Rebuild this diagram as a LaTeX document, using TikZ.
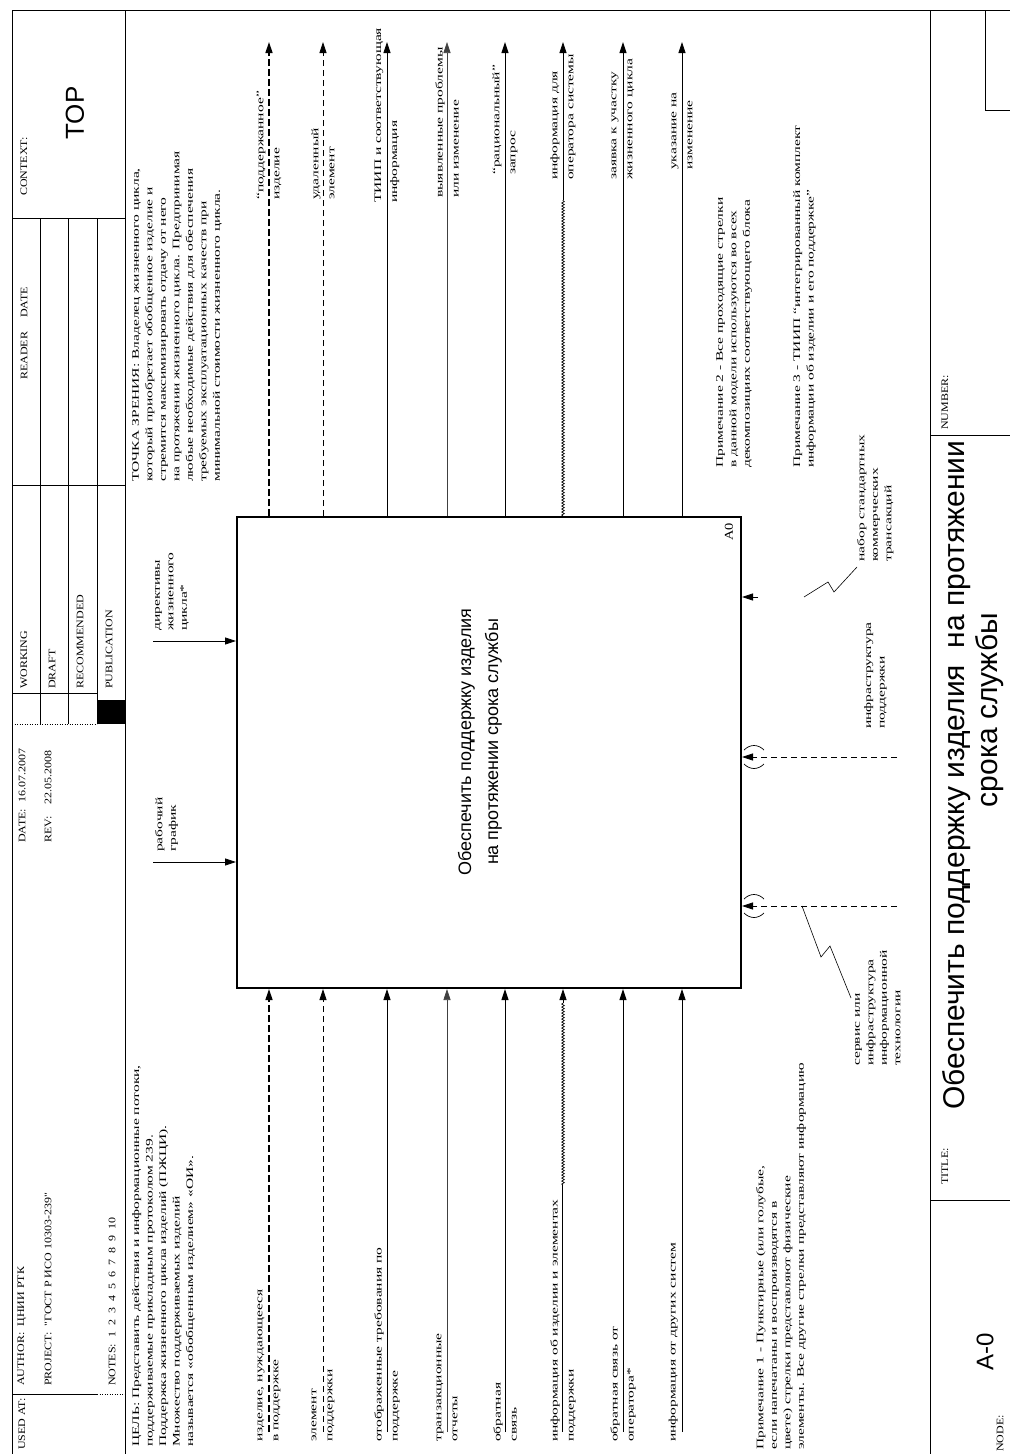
\documentclass[tikz,border=0pt]{standalone}
\usepackage{fontspec}
\setmainfont{Liberation Serif}
\newfontfamily\wide{Liberation Serif}[FakeStretch=1.55]
\newfontfamily\hdr{Liberation Serif}[FakeStretch=1.2]
\newfontfamily\arial{Liberation Sans}
\usetikzlibrary{arrows.meta,decorations.pathmorphing,calc}
\begin{document}
\begin{tikzpicture}[x=1pt,y=-1pt,
  txt/.style={rotate=90, inner sep=0pt, align=left, font=\wide\fontsize{10}{13.5}\selectfont},
  lab/.style={rotate=90, inner sep=0pt, align=left, anchor=west, font=\wide\fontsize{10}{16}\selectfont},
  hd/.style={rotate=90, inner sep=0pt, anchor=west, font=\hdr\fontsize{10}{11}\selectfont},
  arr/.style={-{Triangle[length=11pt,width=7pt]}, line width=0.8pt},
  thickdash/.style={arr, line width=1.4pt, dash pattern=on 7pt off 3pt},
  thindash/.style={arr, line width=0.8pt, dash pattern=on 6pt off 4pt},
  wavy/.style={line width=0.7pt, decorate, decoration={snake, amplitude=1.3pt, segment length=3pt}},
  frm/.style={line width=0.8pt},
  thin/.style={line width=0.5pt}]
\useasboundingbox[fill=white] (0,0) rectangle (1010,1454);
% ---------- frame ----------
\draw[frm] (12,1454) -- (12,10) -- (1010,10);
\draw[thin] (125,10) -- (125,1454);
\draw[frm] (930,10) -- (930,1454);
\draw[thin] (930,1200) -- (1010,1200);
\draw[thin] (930,435) -- (1010,435);
\draw[thin] (985,10) -- (985,110) -- (1010,110);
% ---------- header ----------
\draw[thin] (12,1394) -- (97,1394);
\draw[thin, dotted] (97,1394) -- (125,1394);
\draw[thin] (12,218) -- (125,218);
\draw[thin] (12,485) -- (125,485);
\draw[thin] (12,693) -- (97,693);
\draw[thin, dotted] (12,724) -- (97,724);
\foreach \r in {40,68,97} \draw[thin] (\r,218) -- (\r,724);
\fill (97,700) rectangle (125,724);
\node[hd] (usedat) at (22,1450) {USED AT:};
\node[hd] (author) at (22,1386) {AUTHOR:\ \ ЦНИИ РТК};
\node[hd] (project) at (48,1386) {PROJECT:\ \ "ГОСТ Р ИСО 10303-239"};
\node[hd] (notes) at (112,1386) {NOTES:\ \ 1\ \ 2\ \ 3\ \ 4\ \ 5\ \ 6\ \ 7\ \ 8\ \ 9\ \ 10};
\node[hd] (date) at (22,843) {DATE:\ \ 16.07.2007};
\node[hd] (rev) at (48,843) {REV:\ \ \ \ 22.05.2008};
\node[hd] (working) at (24,689) {WORKING};
\node[hd] (draft) at (52,689) {DRAFT};
\node[hd] (recomm) at (80,689) {RECOMMENDED};
\node[hd] (public) at (109,689) {PUBLICATION};
\node[hd] (reader) at (24,380) {READER};
\node[hd] (rdate) at (24,318) {DATE};
\node[hd] (context) at (24,196) {CONTEXT:};
\node[rotate=90, font=\arial\fontsize{26}{26}\selectfont] (top) at (75,113) {TOP};
% ---------- purpose / viewpoint ----------
\node[txt, anchor=north west] (purpose) at (132,1447) {ЦЕЛЬ: Представить действия и информационные потоки,\\поддерживаемые прикладным протоколом 239.\\Поддержка жизненного цикла изделий (ПЖЦИ).\\Множество поддерживаемых изделий\\называется «обобщенным изделием» «ОИ».};
\node[txt, anchor=north west] (viewpoint) at (132,482) {ТОЧКА ЗРЕНИЯ: Владелец жизненного цикла,\\который приобретает обобщенное изделие и\\стремится максимизировать отдачу от него\\на протяжении жизненного цикла. Предпринимая\\любые необходимые действия для обеспечения\\требуемых эксплуатационных качеств при\\минимальной стоимости жизненного цикла.};
% ---------- main box ----------
\node[draw, line width=2pt, minimum width=504pt, minimum height=471pt, inner sep=0pt] (A0) at (489,752.5) {};
\node[rotate=90, align=center, font=\arial\fontsize{18}{27}\selectfont] (A0text) at (480,742) {Обеспечить поддержку изделия\\на протяжении срока службы};
\node[rotate=90, anchor=east, inner sep=0pt, font=\hdr\fontsize{12}{12}\selectfont] (A0num) at (729,523) {A0};
% ---------- outputs ----------
\coordinate (o1) at (269,42); \coordinate (o2) at (323,42); \coordinate (o3) at (387,42); \coordinate (o4) at (447,42);
\coordinate (o5) at (505,42); \coordinate (o6) at (563,42); \coordinate (o7) at (623,42); \coordinate (o8) at (682,42);
\draw[thickdash] (o1 |- A0.north) -- (o1);
\draw[thindash] (o2 |- A0.north) -- (o2);
\draw[arr] (o3 |- A0.north) -- (o3);
\draw[arr, line width=0.6pt, black!75] (o4 |- A0.north) -- (o4);
\draw[arr, line width=1pt] (o5 |- A0.north) -- (o5);
\coordinate (o6w) at (563,200);
\draw[wavy] (o6 |- A0.north) -- (o6w);
\draw[arr] (o6w) -- (o6);
\draw[arr, line width=1pt] (o7 |- A0.north) -- (o7);
\draw[arr] (o8 |- A0.north) -- (o8);
\node[lab] (o1l) at (269,200) {“поддержанное”\\изделие};
\node[lab] (o2l) at (323,200) {удаленный\\элемент};
\node[lab] (o3l) at (387,203) {ТИИП и соответствующая\\информация};
\node[lab] (o4l) at (447,198) {выявленные проблемы\\или изменение};
\node[lab] (o5l) at (505,175) {“рациональный”\\запрос};
\node[lab] (o6l) at (563,180) {информация для\\оператора системы};
\node[lab] (o7l) at (623,180) {заявка к участку\\жизненного цикла};
\node[lab] (o8l) at (682,170) {указание на\\изменение};
% ---------- inputs ----------
\coordinate (i1) at (269,1432); \coordinate (i2) at (323,1432); \coordinate (i3) at (387,1432); \coordinate (i4) at (447,1432);
\coordinate (i5) at (505,1432); \coordinate (i6) at (563,1432); \coordinate (i7) at (623,1432); \coordinate (i8) at (682,1432);
\draw[thickdash] (i1) -- (i1 |- A0.south);
\draw[thindash] (i2) -- (i2 |- A0.south);
\draw[arr] (i3) -- (i3 |- A0.south);
\draw[arr, line width=0.6pt, black!75] (i4) -- (i4 |- A0.south);
\draw[arr, line width=1pt] (i5) -- (i5 |- A0.south);
\coordinate (i6w) at (563,1185); \coordinate (i6a) at (563,1003);
\draw[line width=0.5pt, double, double distance=0.8pt] (i6) -- (i6w);
\draw[wavy] (i6w) -- (i6a);
\draw[arr] (i6a) -- (i6 |- A0.south);
\draw[arr, line width=1pt] (i7) -- (i7 |- A0.south);
\draw[arr] (i8) -- (i8 |- A0.south);
\node[lab] (i1l) at (269,1442) {изделие, нуждающееся\\в поддержке};
\node[lab] (i2l) at (323,1442) {элемент\\поддержки};
\node[lab] (i3l) at (387,1442) {отображенные требования по\\поддержке};
\node[lab] (i4l) at (447,1442) {транзакционные\\отчеты};
\node[lab] (i5l) at (505,1442) {обратная\\связь};
\node[lab] (i6l) at (563,1442) {информация об изделии и элементах\\поддержки};
\node[lab] (i7l) at (623,1442) {обратная связь от\\оператора*};
\node[lab, anchor=south west] (i8l) at (678,1442) {информация от других систем};
% ---------- controls ----------
\coordinate (c1) at (153,862); \coordinate (c2) at (153,641);
\draw[arr] (c1) -- (c1 -| A0.west);
\draw[arr] (c2) -- (c2 -| A0.west);
\node[txt, anchor=north west] (c1l) at (155,852) {рабочий\\график};
\node[txt, anchor=north west] (c2l) at (155,631) {директивы\\жизненного\\цикла*};
% ---------- mechanisms ----------
\coordinate (m1) at (758,597); \coordinate (m2) at (897,757); \coordinate (m3) at (897,906);
\draw[arr] (m1) -- (m1 -| A0.east);
\draw[thindash] (m2) -- (m2 -| A0.east);
\draw[thindash] (m3) -- (m3 -| A0.east);
\foreach \yy in {757,906} {
  \draw[line width=0.7pt] (744,\yy-7) .. controls (750,\yy-13) and (758,\yy-13) .. (764,\yy-7);
  \draw[line width=0.7pt] (744,\yy+7) .. controls (750,\yy+13) and (758,\yy+13) .. (764,\yy+7);
}
\coordinate (s1) at (804,597);
\draw[line width=0.6pt] (s1) -- (828,582) -- (834,592) -- (857,567);
\coordinate (s3) at (802,906);
\draw[line width=0.6pt] (s3) -- (821,957) -- (830,946) -- (851,998);
\node[txt, anchor=north west] (m1l) at (857,562) {набор стандартных\\коммерческих\\трансакций};
\node[txt, anchor=north west] (m2l) at (864,729) {инфраструктура\\поддержки};
\node[txt, anchor=north west] (m3l) at (855,1066) {сервис или\\инфраструктура\\информационной\\технологии};
% ---------- notes ----------
\node[txt, anchor=north west] (n2) at (716,468) {Примечание 2 - Все проходящие стрелки\\в данной модели используются во всех\\декомпозициях соответствующего блока};
\node[txt, anchor=north west] (n3) at (793,468) {Примечание 3 - ТИИП “интегрированный комплект\\информации об изделии и его поддержке”};
\node[txt, anchor=north west] (n1) at (756,1450) {Примечание 1 - Пунктирные (или голубые,\\если напечатаны и воспроизводятся в\\цвете) стрелки представляют физические\\элементы. Все другие стрелки представляют информацию};
% ---------- footer ----------
\node[hd] (nodelbl) at (1000,1452) {NODE:};
\node[rotate=90, font=\arial\fontsize{24}{24}\selectfont] (nodeval) at (985,1352) {A-0};
\node[hd] (titlelbl) at (945,1185) {TITLE:};
\node[rotate=90, anchor=west, inner sep=0pt, font=\arial\fontsize{30}{33}\selectfont] (title1) at (957,1110) {Обеспечить поддержку изделия\ \ на протяжении};
\node[rotate=90, inner sep=0pt, font=\arial\fontsize{30}{33}\selectfont] (title2) at (990,710) {срока службы};
\node[hd] (numlbl) at (945,430) {NUMBER:};
\end{tikzpicture}
\end{document}
